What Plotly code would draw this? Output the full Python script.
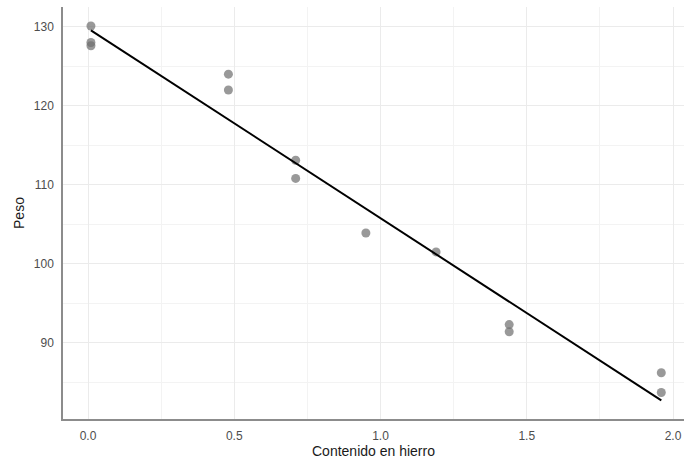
import numpy as np
import plotly.graph_objects as go

fe = [0.01, 0.48, 0.71, 0.95, 1.19, 0.01, 0.48, 1.44, 0.71, 1.96, 0.01, 1.44, 1.96]
peso = [127.6, 124.0, 110.8, 103.9, 101.5, 130.1, 122.0, 92.3, 113.1, 83.7, 128.0, 91.4, 86.2]

x_ticks = [0.0, 0.5, 1.0, 1.5, 2.0]
x_tick_labels = ["0.0", "0.5", "1.0", "1.5", "2.0"]
y_ticks = [90, 100, 110, 120, 130]

slope, intercept = np.polyfit(fe, peso, 1)
xl = np.array([min(fe), max(fe)])
yl = intercept + slope * xl

fig = go.Figure()
fig.add_trace(go.Scatter(x=fe, y=peso, mode="markers",
                         marker=dict(size=9, color="rgba(110,110,110,0.7)", line=dict(width=0)),
                         showlegend=False))
fig.add_trace(go.Scatter(x=xl, y=yl, mode="lines",
                         line=dict(color="black", width=2), showlegend=False))

font = "Liberation Sans, Arial, sans-serif"
fig.update_layout(
    width=684, height=460,
    margin=dict(l=63, r=0, t=7, b=41),
    plot_bgcolor="white", paper_bgcolor="white",
    font=dict(family=font, color="#4d4d4d", size=12),
    xaxis=dict(range=[-0.0855, 2.0376], tickvals=x_ticks, ticktext=x_tick_labels,
               showgrid=True, gridcolor="#ebebeb", gridwidth=1.2,
               minor=dict(dtick=0.25, tick0=0.25, showgrid=True, gridcolor="#f3f3f3", gridwidth=0.8),
               zeroline=False, showline=True, linecolor="#8c8c8c", linewidth=1.5,
               ticks="outside", ticklen=5, tickcolor="rgba(0,0,0,0)",
               title=dict(text="Contenido en hierro", font=dict(size=14, color="#1a1a1a"), standoff=2),
               tickfont=dict(size=12, color="#4d4d4d")),
    yaxis=dict(range=[80.35, 132.5], tickvals=y_ticks,
               showgrid=True, gridcolor="#ebebeb", gridwidth=1.2,
               minor=dict(dtick=5, tick0=85, showgrid=True, gridcolor="#f3f3f3", gridwidth=0.8),
               zeroline=False, showline=True, linecolor="#8c8c8c", linewidth=1.5,
               ticks="outside", ticklen=5, tickcolor="rgba(0,0,0,0)",
               title=dict(text="Peso", font=dict(size=14, color="#1a1a1a"), standoff=6),
               tickfont=dict(size=12, color="#4d4d4d")),
)
fig.write_html("out.html")
